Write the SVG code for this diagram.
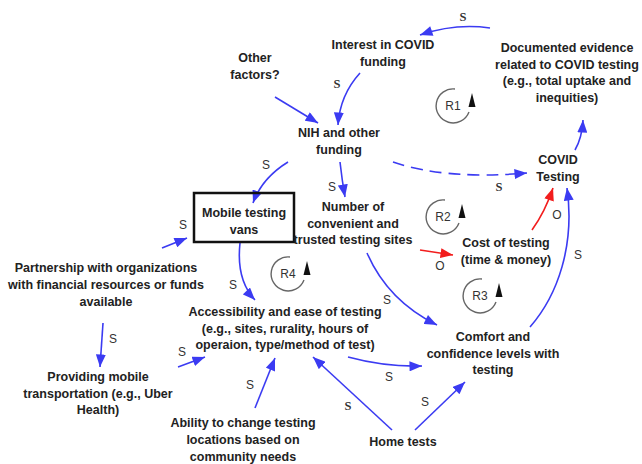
<svg xmlns="http://www.w3.org/2000/svg" xmlns:xlink="http://www.w3.org/1999/xlink" width="642" height="464" viewBox="0 0 642 464">
  <defs>
    <style>
      .lbl { font-family: "Liberation Sans", Arial, sans-serif; font-size: 12.5px; font-weight: bold; fill: #222; text-anchor: middle; }
      .pol { font-family: "Liberation Sans", Arial, sans-serif; font-size: 12px; fill: #333; text-anchor: middle; }
      .pols { font-family: "Liberation Serif", "Times New Roman", serif; font-size: 12.5px; font-weight: bold; fill: #333; text-anchor: middle; }
      .loopname { font-family: "Liberation Sans", Arial, sans-serif; font-size: 12px; fill: #333; text-anchor: middle; }
      .blue { fill: none; stroke: #3b3bf2; stroke-width: 1.6; marker-end: url(#ab); }
      .red { fill: none; stroke: #f21d1d; stroke-width: 1.6; marker-end: url(#ar); }
      .dash { stroke-dasharray: 12 7; }
    </style>
    <marker id="ab" viewBox="0 0 10 8" refX="10" refY="4" markerWidth="13" markerHeight="10" orient="auto" markerUnits="userSpaceOnUse">
      <path d="M0,0 L10,4 L0,8 z" fill="#3b3bf2"/>
    </marker>
    <marker id="ar" viewBox="0 0 10 8" refX="10" refY="4" markerWidth="13" markerHeight="10" orient="auto" markerUnits="userSpaceOnUse">
      <path d="M0,0 L10,4 L0,8 z" fill="#f21d1d"/>
    </marker>
    <!-- reinforcing loop marker: open circle with upward arrowhead -->
    <g id="loop">
      <path d="M2,-17 A17,17 0 1 0 16,6" fill="none" stroke="#666" stroke-width="1.4"/>
      <path d="M15.5,1 L22.5,1 L19,-13 z" fill="#111"/>
    </g>
  </defs>
  <rect width="642" height="464" fill="#fff"/>

  <!-- connectors -->
  <g id="connectors">
    <path class="blue" d="M490,28 Q455,23 420,35"/>
    <path class="blue" d="M360,73 Q340,95 338,125"/>
    <path class="blue" d="M275,97 L318,123"/>
    <path class="blue" d="M288,162 Q262,178 253,203"/>
    <path class="blue" d="M340,162 Q342,180 345,197"/>
    <path class="blue dash" d="M393,162 Q445,180 527,173"/>
    <path class="blue" d="M575,150 Q582,138 583,120"/>
    <path class="red" d="M420,250 L453,255"/>
    <path class="red" d="M532,230 Q545,212 553,188"/>
    <path class="blue" d="M530,327 C558,295 575,245 567,188"/>
    <path class="blue" d="M367,253 Q388,301 437,325"/>
    <path class="blue" d="M240,243 Q236,280 255,300"/>
    <path class="blue" d="M162,248 L187,238"/>
    <path class="blue" d="M103,323 L100,367"/>
    <path class="blue" d="M178,367 L205,357"/>
    <path class="blue" d="M255,408 L275,358"/>
    <path class="blue" d="M348,357 Q385,367 422,366"/>
    <path class="blue" d="M392,430 L313,357"/>
    <path class="blue" d="M415,430 L465,382"/>
  </g>

  <!-- polarity labels -->
  <g id="polarities">
    <text class="pols" x="463" y="21">S</text>
    <text class="pols" x="337" y="88">S</text>
    <text class="pol" x="266" y="169">S</text>
    <text class="pol" x="332" y="191">S</text>
    <text class="pols" x="499" y="191">S</text>
    <text class="pol" x="440" y="270">O</text>
    <text class="pol" x="557" y="219">O</text>
    <text class="pol" x="578" y="259">S</text>
    <text class="pol" x="387" y="304">S</text>
    <text class="pol" x="233" y="289">S</text>
    <text class="pol" x="183" y="229">S</text>
    <text class="pol" x="113" y="343">S</text>
    <text class="pol" x="182" y="356">S</text>
    <text class="pol" x="250" y="389">S</text>
    <text class="pol" x="389" y="381">S</text>
    <text class="pols" x="348" y="410">S</text>
    <text class="pol" x="425" y="406">S</text>
  </g>

  <!-- loop markers -->
  <g id="loop-R1"><use xlink:href="#loop" x="453" y="106"/><text class="loopname" x="453" y="110">R1</text></g>
  <g id="loop-R2"><use xlink:href="#loop" x="443" y="217"/><text class="loopname" x="443" y="221">R2</text></g>
  <g id="loop-R3"><use xlink:href="#loop" x="480" y="296"/><text class="loopname" x="480" y="300">R3</text></g>
  <g id="loop-R4"><use xlink:href="#loop" x="288" y="274"/><text class="loopname" x="288" y="278">R4</text></g>

  <!-- nodes -->
  <g id="other-factors">
    <text class="lbl" x="255" y="62">Other</text>
    <text class="lbl" x="255" y="79">factors?</text>
  </g>
  <g id="interest">
    <text class="lbl" x="383" y="49">Interest in COVID</text>
    <text class="lbl" x="383" y="66">funding</text>
  </g>
  <g id="documented-evidence">
    <text class="lbl" x="567" y="52">Documented evidence</text>
    <text class="lbl" x="567" y="68.5">related to COVID testing</text>
    <text class="lbl" x="567" y="85">(e.g., total uptake and</text>
    <text class="lbl" x="567" y="101.5">inequities)</text>
  </g>
  <g id="nih-funding">
    <text class="lbl" x="339" y="137">NIH and other</text>
    <text class="lbl" x="339" y="154">funding</text>
  </g>
  <g id="covid-testing">
    <text class="lbl" x="558" y="164">COVID</text>
    <text class="lbl" x="558" y="181">Testing</text>
  </g>
  <g id="mobile-vans">
    <rect x="194" y="193" width="100" height="49" fill="none" stroke="#111" stroke-width="2.5"/>
    <text class="lbl" x="244" y="217">Mobile testing</text>
    <text class="lbl" x="244" y="234">vans</text>
  </g>
  <g id="testing-sites">
    <text class="lbl" x="353" y="211">Number of</text>
    <text class="lbl" x="353" y="227.5">convenient and</text>
    <text class="lbl" x="353" y="244">trusted testing sites</text>
  </g>
  <g id="cost">
    <text class="lbl" x="506" y="247">Cost of testing</text>
    <text class="lbl" x="506" y="264">(time &amp; money)</text>
  </g>
  <g id="partnership">
    <text class="lbl" x="106" y="272">Partnership with organizations</text>
    <text class="lbl" x="106" y="289">with financial resources or funds</text>
    <text class="lbl" x="106" y="306">available</text>
  </g>
  <g id="accessibility">
    <text class="lbl" x="285" y="316">Accessibility and ease of testing</text>
    <text class="lbl" x="285" y="332.5">(e.g., sites, rurality, hours of</text>
    <text class="lbl" x="285" y="349">operaion, type/method of test)</text>
  </g>
  <g id="mobile-transport">
    <text class="lbl" x="98" y="381">Providing mobile</text>
    <text class="lbl" x="98" y="397.5">transportation (e.g., Uber</text>
    <text class="lbl" x="98" y="414">Health)</text>
  </g>
  <g id="change-locations">
    <text class="lbl" x="243" y="427">Ability to change testing</text>
    <text class="lbl" x="243" y="444">locations based on</text>
    <text class="lbl" x="243" y="461">community needs</text>
  </g>
  <g id="comfort">
    <text class="lbl" x="493" y="341">Comfort and</text>
    <text class="lbl" x="493" y="357.5">confidence levels with</text>
    <text class="lbl" x="493" y="374">testing</text>
  </g>
  <g id="home-tests">
    <text class="lbl" x="403" y="446">Home tests</text>
  </g>
</svg>
